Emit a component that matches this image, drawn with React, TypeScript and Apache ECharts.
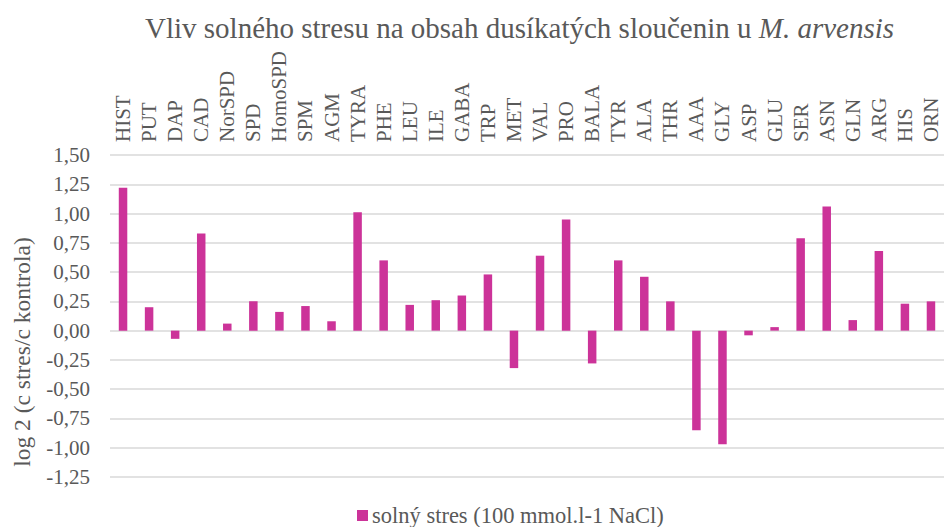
import React, { useEffect, useRef } from "react";
import * as echarts from "echarts";

const categories = ["HIST", "PUT", "DAP", "CAD", "NorSPD", "SPD", "HomoSPD", "SPM", "AGM", "TYRA", "PHE", "LEU", "ILE", "GABA", "TRP", "MET", "VAL", "PRO", "BALA", "TYR", "ALA", "THR", "AAA", "GLY", "ASP", "GLU", "SER", "ASN", "GLN", "ARG", "HIS", "ORN"];
const values = [1.22, 0.20, -0.07, 0.83, 0.06, 0.25, 0.16, 0.21, 0.08, 1.01, 0.60, 0.22, 0.26, 0.30, 0.48, -0.32, 0.64, 0.95, -0.28, 0.60, 0.46, 0.25, -0.85, -0.97, -0.04, 0.03, 0.79, 1.06, 0.09, 0.68, 0.23, 0.25];
const seriesName = "solný stres (100 mmol.l-1 NaCl)";
const titleMain = "Vliv solného stresu na obsah dusíkatých sloučenin u ";
const titleItalic = "M. arvensis";
const yAxisTitle = "log 2 (c stres/c kontrola)";
const yMin = -1.25;
const yMax = 1.5;
const yStep = 0.25;

const FONT = "Liberation Serif";
const TEXT = "#595959";
const BAR = "#CC3399";

export default function App() {
  const ref = useRef<HTMLDivElement>(null);
  useEffect(() => {
    if (!ref.current) return;
    const chart = echarts.init(ref.current, null, { renderer: "svg" });
    chart.setOption({
      animation: false,
      backgroundColor: "#ffffff",
      title: {
        text: `{a|${titleMain}}{b|${titleItalic}}`,
        left: 140,
        top: 8,
        textStyle: {
          fontWeight: "normal",
          rich: {
            a: { fontFamily: FONT, fontSize: 29, color: TEXT },
            b: { fontFamily: FONT, fontSize: 29, color: TEXT, fontStyle: "italic" },
          },
        },
      },
      grid: { left: 110, right: -5, top: 155, bottom: 50 },
      legend: {
        top: 504,
        left: 357,
        padding: 0,
        itemWidth: 11,
        itemHeight: 11,
        itemGap: 5,
        icon: "rect",
        textStyle: { fontFamily: FONT, fontSize: 22.5, color: TEXT, padding: [0, 0, 0, -1] },
        data: [seriesName],
      },
      graphic: [
        {
          type: "text",
          x: 22,
          y: 352,
          rotation: Math.PI / 2,
          style: { text: yAxisTitle, fontFamily: FONT, fontSize: 23.5, fill: TEXT, align: "center", verticalAlign: "middle" },
        },
      ],
      xAxis: {
        type: "category",
        position: "top",
        data: categories,
        axisLine: { show: false },
        axisTick: { show: false },
        axisLabel: { rotate: 90, margin: 13, interval: 0, fontFamily: FONT, fontSize: 21, color: TEXT },
      },
      yAxis: {
        type: "value",
        min: yMin,
        max: yMax,
        interval: yStep,
        axisLine: { show: false },
        axisTick: { show: false },
        splitLine: { lineStyle: { color: "#D9D9D9", width: 1.5 } },
        axisLabel: { margin: 20, fontFamily: FONT, fontSize: 21, color: TEXT, formatter: (v: number) => v.toFixed(2).replace(".", ",") },
      },
      series: [{ name: seriesName, type: "bar", data: values, barWidth: 8.5, itemStyle: { color: BAR } }],
    });
    return () => chart.dispose();
  }, []);
  return <div ref={ref} style={{ width: 944, height: 527, position: "absolute", left: 0, top: 0 }} />;
}
